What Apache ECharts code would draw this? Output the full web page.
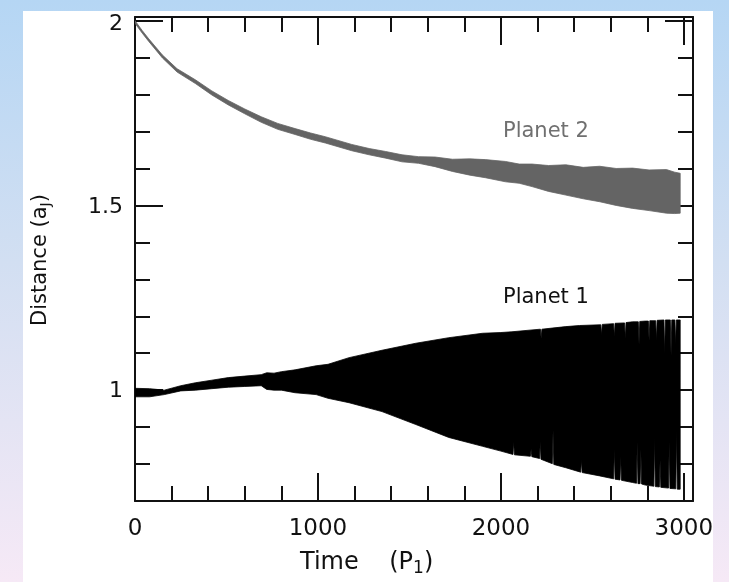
<!DOCTYPE html>
<html>
<head>
<meta charset="utf-8">
<script src="https://cdn.jsdelivr.net/npm/echarts@6/dist/echarts.min.js"></script>
<style>
  html, body { margin: 0; padding: 0; }
  body { width: 729px; height: 582px; background: linear-gradient(to bottom, #b5d6f4 0%, #d2dff2 45%, #f6e9f6 100%); position: relative; overflow: hidden; }
  #panel { position: absolute; left: 23px; top: 11px; width: 690px; height: 571px; background: #ffffff; }
  #chart { position: absolute; left: 0; top: 0; width: 729px; height: 582px; }
</style>
</head>
<body>
<div id="panel"></div>
<div id="chart"></div>
<script>
// ---------------- data ----------------
const xMajorTicks = [0, 1000, 2000, 3000];
const xMinorTicks = [200, 400, 600, 800, 1200, 1400, 1600, 1800, 2200, 2400, 2600, 2800];
const yMajorTicks = [1, 1.5, 2];
const yMinorTicksLeft = [0.8, 0.9, 1.1, 1.2, 1.3, 1.4, 1.6, 1.7, 1.8, 1.9];
const yMajorTicksRight = [2];
const yMinorTicksRight = [0.8, 0.9, 1.0, 1.1, 1.2, 1.3, 1.4, 1.5, 1.6, 1.7, 1.8, 1.9];

// Planet 2: band (upper / lower envelope) vs time
const p2Time  = [0, 40, 75, 150, 230, 330, 420, 510, 600, 690, 780, 875, 960, 1040, 1185, 1280, 1370, 1460, 1550, 1640, 1735, 1830, 1915, 2025, 2100, 2170, 2260, 2355, 2450, 2540, 2630, 2720, 2810, 2905, 2950, 2980];
const p2Upper = [2.000, 1.973, 1.951, 1.907, 1.870, 1.840, 1.810, 1.784, 1.761, 1.740, 1.722, 1.708, 1.696, 1.686, 1.665, 1.654, 1.646, 1.637, 1.632, 1.631, 1.625, 1.626, 1.624, 1.619, 1.612, 1.612, 1.608, 1.610, 1.603, 1.606, 1.600, 1.601, 1.596, 1.597, 1.590, 1.587];
const p2Lower = [1.993, 1.966, 1.944, 1.899, 1.861, 1.830, 1.799, 1.772, 1.748, 1.725, 1.706, 1.692, 1.679, 1.669, 1.648, 1.637, 1.628, 1.618, 1.614, 1.605, 1.592, 1.582, 1.575, 1.564, 1.560, 1.551, 1.538, 1.528, 1.518, 1.510, 1.500, 1.492, 1.486, 1.479, 1.478, 1.479];

// Planet 1: upper envelope
const p1UpperTime = [0, 80, 160, 250, 330, 420, 510, 600, 690, 720, 760, 800, 875, 990, 1055, 1170, 1350, 1535, 1715, 1900, 2000, 2060, 2170, 2216, 2220, 2224, 2280, 2355, 2430, 2546, 2550, 2554, 2616, 2620, 2624, 2676, 2680, 2684, 2720, 2751, 2755, 2759, 2790, 2806, 2810, 2814, 2846, 2850, 2854, 2891, 2895, 2899, 2926, 2930, 2934, 2951, 2955, 2959, 2980];
const p1Upper     = [1.005, 1.004, 1.000, 1.012, 1.020, 1.027, 1.034, 1.038, 1.042, 1.047, 1.046, 1.050, 1.055, 1.066, 1.070, 1.088, 1.108, 1.127, 1.142, 1.154, 1.156, 1.158, 1.163, 1.165, 1.140, 1.165, 1.168, 1.172, 1.175, 1.177, 1.150, 1.178, 1.180, 1.145, 1.181, 1.182, 1.140, 1.183, 1.185, 1.185, 1.125, 1.186, 1.187, 1.187, 1.135, 1.188, 1.188, 1.135, 1.189, 1.190, 1.100, 1.190, 1.190, 1.095, 1.190, 1.190, 1.125, 1.190, 1.190];
// Planet 1: lower envelope
const p1LowerTime = [0, 80, 160, 250, 330, 420, 510, 600, 690, 720, 760, 800, 875, 990, 1055, 1170, 1350, 1535, 1715, 1900, 2000, 2066, 2070, 2074, 2161, 2165, 2169, 2211, 2215, 2219, 2281, 2285, 2289, 2355, 2436, 2440, 2444, 2540, 2616, 2620, 2624, 2651, 2655, 2659, 2720, 2741, 2745, 2749, 2761, 2765, 2769, 2790, 2836, 2840, 2844, 2866, 2870, 2874, 2916, 2920, 2924, 2956, 2960, 2964, 2980];
const p1Lower     = [0.982, 0.982, 0.988, 0.998, 1.000, 1.004, 1.008, 1.010, 1.012, 1.002, 1.000, 1.000, 0.993, 0.988, 0.978, 0.966, 0.942, 0.907, 0.872, 0.848, 0.835, 0.826, 0.860, 0.825, 0.821, 0.840, 0.820, 0.815, 0.860, 0.813, 0.801, 0.890, 0.799, 0.790, 0.778, 0.810, 0.777, 0.768, 0.760, 0.840, 0.759, 0.757, 0.820, 0.756, 0.750, 0.748, 0.860, 0.747, 0.747, 0.840, 0.746, 0.743, 0.740, 0.870, 0.739, 0.738, 0.810, 0.737, 0.735, 0.860, 0.734, 0.733, 0.890, 0.732, 0.732];

const seriesNames = ['Planet 1', 'Planet 2'];

// ---------------- chart ----------------
const chart = echarts.init(document.getElementById('chart'), null, { renderer: 'canvas' });

const FONT = 'DejaVu Sans';
const X_MIN = 0, X_MAX = 3050, Y_MIN = 0.7, Y_MAX = 2.01;
const lineStyle = { color: '#111', width: 2 };

function bandSeries(name, upT, upV, loT, loV, color) {
  return {
    type: 'custom',
    name: name,
    xAxisIndex: 0,
    yAxisIndex: 0,
    silent: true,
    clip: true,
    data: [[upT[0], upV[0]]],
    encode: { x: 0, y: 1 },
    renderItem: function (params, api) {
      const pts = [];
      for (let i = 0; i < upT.length; i++) pts.push(api.coord([upT[i], upV[i]]));
      for (let i = loT.length - 1; i >= 0; i--) pts.push(api.coord([loT[i], loV[i]]));
      return {
        type: 'polygon',
        shape: { points: pts },
        style: { fill: color, stroke: color, lineWidth: 0.8 }
      };
    }
  };
}

function xAx(position, ticks, len, showLine, showLabel) {
  return {
    type: 'value', position: position, min: X_MIN, max: X_MAX,
    splitLine: { show: false },
    axisLine: { show: showLine, onZero: false, lineStyle: lineStyle },
    axisTick: { show: true, inside: true, length: len, customValues: ticks, lineStyle: { color: '#111', width: 2 } },
    axisLabel: showLabel ? { show: true, customValues: xMajorTicks, margin: 17, color: '#111', fontFamily: FONT, fontSize: 23, formatter: function (v) { return String(v); } } : { show: false }
  };
}
function yAx(position, ticks, len, showLine, showLabel) {
  return {
    type: 'value', position: position, min: Y_MIN, max: Y_MAX,
    splitLine: { show: false },
    axisLine: { show: showLine, onZero: false, lineStyle: lineStyle },
    axisTick: { show: true, inside: true, length: len, customValues: ticks, lineStyle: { color: '#111', width: 2 } },
    axisLabel: showLabel ? {
      show: true, customValues: yMajorTicks, margin: 12, color: '#111', fontFamily: FONT, fontSize: 22,
      formatter: function (v) { return v === 2 ? '{t|' + v + '}' : '{n|' + v + '}'; },
      rich: {
        t: { fontFamily: FONT, fontSize: 22, color: '#111', padding: [7, 0, 0, 0] },
        n: { fontFamily: FONT, fontSize: 22, color: '#111', padding: [3, 0, 0, 0] }
      }
    } : { show: false }
  };
}

const titleRichX = {
  a: { fontFamily: FONT, fontSize: 24, fill: '#111' },
  s: { fontFamily: FONT, fontSize: 17, fill: '#111', padding: [12, 0, 0, 0] }
};
const titleRichY = {
  a: { fontFamily: FONT, fontSize: 21, fill: '#111' },
  s: { fontFamily: FONT, fontSize: 14, fill: '#111', padding: [11, 0, 0, 0] }
};

const option = {
  animation: false,
  backgroundColor: 'transparent',
  grid: { left: 135, right: 36, top: 17, bottom: 81, containLabel: false },
  xAxis: [
    xAx('bottom', xMajorTicks.slice(1), 28, true, true),
    xAx('bottom', xMinorTicks, 15, false, false),
    xAx('top', xMajorTicks.slice(1), 28, true, false),
    xAx('top', xMinorTicks, 15, false, false)
  ],
  yAxis: [
    yAx('left', yMajorTicks, 28, true, true),
    yAx('left', yMinorTicksLeft, 15, false, false),
    yAx('right', yMajorTicksRight, 28, true, false),
    yAx('right', yMinorTicksRight, 15, false, false)
  ],
  series: [
    bandSeries(seriesNames[1], p2Time, p2Upper, p2Time, p2Lower, '#646464'),
    bandSeries(seriesNames[0], p1UpperTime, p1Upper, p1LowerTime, p1Lower, '#000000')
  ],
  graphic: [
    { type: 'text', left: 503, top: 121, style: { text: seriesNames[1], fontFamily: FONT, fontSize: 21, fill: '#707070' } },
    { type: 'text', left: 503, top: 287, style: { text: seriesNames[0], fontFamily: FONT, fontSize: 21, fill: '#111' } },
    { type: 'text', left: 300, top: 551, style: { text: '{a|Time    (P}{s|1}{a|)}', rich: titleRichX } },
    { type: 'text', x: 28, y: 326, rotation: Math.PI / 2, style: { text: '{a|Distance (a}{s|J}{a|)}', rich: titleRichY } }
  ]
};
chart.setOption(option);
</script>
</body>
</html>
